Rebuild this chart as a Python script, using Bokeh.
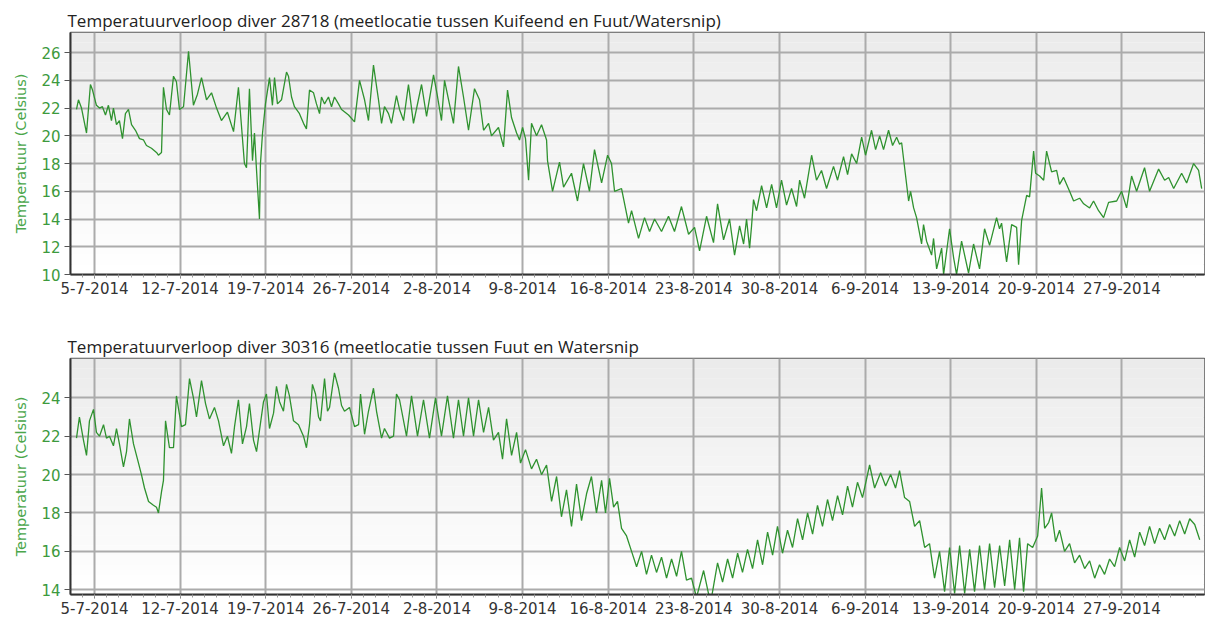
from bokeh.plotting import figure
from bokeh.layouts import column
from bokeh.models import FixedTicker, Range1d, BoxAnnotation
from bokeh.embed import file_html
from bokeh.resources import INLINE

# x values: days since 5-7-2014
tick_days = [0, 7, 14, 21, 28, 35, 42, 49, 56, 63, 70, 77, 84]
tick_labels = ["5-7-2014", "12-7-2014", "19-7-2014", "26-7-2014", "2-8-2014",
               "9-8-2014", "16-8-2014", "23-8-2014", "30-8-2014", "6-9-2014",
               "13-9-2014", "20-9-2014", "27-9-2014"]

title_top = "Temperatuurverloop diver 28718 (meetlocatie tussen Kuifeend en Fuut/Watersnip)"
title_bottom = "Temperatuurverloop diver 30316 (meetlocatie tussen Fuut en Watersnip"
y_label = "Temperatuur (Celsius)"

top_days = [
    -1.47, -1.31, -1.06, -0.65, -0.33, -0.16, 0.16, 0.41, 0.65, 0.90,
    1.14, 1.39, 1.55, 1.80, 2.04, 2.29, 2.53, 2.78, 3.03, 3.35,
    3.68, 4.01, 4.25, 4.66, 5.07, 5.23, 5.48, 5.64, 5.89, 6.13,
    6.46, 6.70, 6.95, 7.28, 7.69, 8.09, 8.42, 8.75, 9.16, 9.57,
    9.98, 10.38, 10.87, 11.37, 11.77, 12.26, 12.43, 12.67, 12.92, 13.08,
    13.25, 13.49, 13.57, 13.74, 13.98, 14.31, 14.55, 14.72, 14.96, 15.29,
    15.70, 15.86, 16.11, 16.35, 16.76, 17.09, 17.33, 17.58, 17.91, 18.15,
    18.40, 18.56, 18.81, 19.13, 19.38, 19.62, 19.95, 20.20, 20.77, 21.26,
    21.67, 22.08, 22.40, 22.81, 23.22, 23.47, 23.71, 24.04, 24.28, 24.69,
    24.94, 25.27, 25.67, 26.08, 26.74, 27.15, 27.72, 28.05, 28.37, 28.62,
    28.95, 29.35, 29.76, 30.17, 30.58, 31.07, 31.48, 31.81, 32.22, 32.46,
    33.03, 33.44, 33.77, 34.10, 34.51, 34.75, 35.00, 35.24, 35.49, 35.73,
    36.14, 36.55, 36.96, 37.04, 37.45, 38.02, 38.35, 39.00, 39.49, 39.98,
    40.47, 40.88, 41.46, 41.95, 42.27, 42.52, 43.09, 43.66, 43.91, 44.48,
    44.97, 45.38, 45.79, 46.36, 46.93, 47.42, 47.99, 48.57, 49.06, 49.47,
    50.04, 50.61, 50.94, 51.43, 51.92, 52.33, 52.74, 53.07, 53.31, 53.56,
    53.72, 53.88, 54.13, 54.54, 54.95, 55.36, 55.76, 56.17, 56.58, 56.99,
    57.40, 57.65, 58.05, 58.63, 59.03, 59.44, 59.85, 60.42, 60.75, 61.24,
    61.57, 61.90, 62.31, 62.72, 63.04, 63.53, 63.86, 64.19, 64.51, 64.92,
    65.25, 65.58, 65.82, 65.99, 66.56, 66.72, 66.97, 67.21, 67.62, 67.78,
    68.03, 68.44, 68.60, 68.85, 69.26, 69.42, 69.91, 70.24, 70.48, 70.89,
    71.46, 71.87, 72.36, 72.77, 73.18, 73.75, 73.99, 74.16, 74.57, 74.98,
    75.39, 75.55, 75.80, 76.21, 76.45, 76.78, 76.94, 77.27, 77.60, 77.84,
    78.25, 78.66, 78.90, 79.23, 79.72, 80.05, 80.54, 80.87, 81.36, 81.68,
    82.09, 82.50, 82.91, 83.57, 83.97, 84.38, 84.79, 85.20, 85.85, 86.26,
    87.00, 87.49, 87.82, 88.23, 88.88, 89.29, 89.86, 90.27, 90.52,
]
top_temp = [
    21.9, 22.6, 22.0, 20.2, 23.7, 23.3, 22.2, 22.0, 22.1, 21.5,
    22.2, 21.1, 22.0, 20.8, 21.1, 19.8, 21.6, 21.9, 20.8, 20.4,
    19.8, 19.7, 19.3, 19.1, 18.8, 18.6, 18.8, 23.5, 21.9, 21.5,
    24.3, 23.9, 21.9, 22.1, 26.1, 22.2, 23.0, 24.2, 22.6, 23.1,
    22.0, 21.1, 21.7, 20.3, 23.5, 18.0, 17.7, 23.4, 18.2, 20.2,
    17.5, 14.0, 18.0, 20.2, 22.3, 24.2, 22.2, 24.2, 22.3, 22.6,
    24.6, 24.3, 22.8, 22.1, 21.6, 20.9, 20.5, 23.3, 23.1, 22.3,
    21.6, 22.8, 22.3, 22.8, 22.1, 22.8, 22.3, 21.9, 21.5, 21.0,
    24.0, 22.6, 21.1, 25.1, 22.6, 20.9, 22.1, 21.6, 20.9, 22.9,
    21.9, 21.1, 23.7, 20.9, 23.7, 21.4, 24.4, 22.8, 21.1, 24.0,
    22.6, 20.9, 25.0, 22.8, 20.4, 23.4, 22.6, 20.4, 20.9, 20.0,
    20.6, 19.2, 23.3, 21.3, 20.2, 19.7, 20.6, 19.8, 16.8, 20.9,
    20.0, 20.8, 19.7, 18.2, 16.0, 18.1, 16.3, 17.3, 15.3, 18.0,
    16.0, 19.0, 16.6, 18.6, 18.0, 16.0, 16.2, 13.7, 14.6, 12.6,
    14.1, 13.1, 14.0, 13.1, 14.2, 13.1, 14.9, 12.9, 13.4, 11.7,
    14.2, 12.3, 15.1, 12.5, 14.0, 11.4, 13.5, 12.2, 14.0, 11.9,
    13.5, 15.4, 14.6, 16.4, 14.8, 16.5, 14.8, 16.8, 15.0, 16.2,
    14.9, 16.8, 15.5, 18.6, 16.8, 17.5, 16.2, 17.8, 16.8, 18.5,
    17.2, 18.7, 18.0, 19.9, 18.6, 20.4, 19.0, 20.0, 19.0, 20.4,
    19.3, 19.9, 19.4, 19.5, 15.3, 16.0, 14.8, 14.1, 12.2, 13.6,
    12.4, 11.4, 12.6, 10.4, 11.9, 10.0, 13.3, 11.2, 10.0, 12.4,
    10.1, 12.2, 10.4, 13.3, 12.1, 14.1, 13.3, 13.7, 10.9, 13.6,
    13.4, 10.7, 13.9, 15.7, 15.6, 18.9, 17.3, 17.1, 16.8, 18.9,
    17.4, 17.5, 16.5, 17.0, 16.0, 15.3, 15.5, 15.1, 14.8, 15.3,
    14.6, 14.1, 15.2, 15.3, 16.0, 14.8, 17.1, 16.0, 17.7, 16.0,
    17.6, 16.8, 17.0, 16.2, 17.3, 16.6, 18.0, 17.5, 16.2,
]

bottom_days = [
    -1.47, -1.23, -0.90, -0.65, -0.41, -0.08, 0.16, 0.41, 0.74, 0.98,
    1.23, 1.55, 1.80, 2.04, 2.37, 2.62, 2.86, 3.19, 3.60, 3.84,
    4.09, 4.42, 4.82, 5.07, 5.23, 5.48, 5.64, 5.81, 6.13, 6.46,
    6.70, 7.11, 7.44, 7.77, 8.09, 8.34, 8.75, 9.08, 9.40, 9.81,
    10.14, 10.55, 10.87, 11.20, 11.45, 11.77, 12.10, 12.43, 12.67, 13.00,
    13.25, 13.49, 13.82, 14.06, 14.31, 14.64, 14.88, 15.13, 15.45, 15.70,
    15.94, 16.27, 16.68, 17.09, 17.33, 17.58, 17.82, 18.07, 18.32, 18.48,
    18.81, 19.05, 19.22, 19.62, 19.95, 20.20, 20.44, 20.85, 21.26, 21.59,
    21.75, 22.08, 22.40, 22.81, 23.06, 23.47, 23.71, 24.12, 24.45, 24.69,
    24.94, 25.51, 25.92, 26.41, 26.90, 27.39, 27.88, 28.37, 28.86, 29.35,
    29.76, 30.17, 30.58, 30.99, 31.40, 31.81, 32.22, 32.62, 33.03, 33.36,
    33.69, 34.10, 34.51, 34.83, 35.24, 35.73, 36.14, 36.55, 36.96, 37.37,
    37.78, 38.18, 38.59, 39.00, 39.41, 39.82, 40.23, 40.63, 41.04, 41.46,
    41.78, 42.11, 42.44, 42.76, 43.09, 43.50, 43.91, 44.32, 44.73, 45.13,
    45.54, 45.95, 46.36, 46.77, 47.18, 47.59, 47.99, 48.40, 48.81, 49.22,
    49.80, 50.20, 50.45, 50.94, 51.35, 51.76, 52.17, 52.58, 52.98, 53.39,
    53.80, 54.21, 54.62, 55.03, 55.44, 55.84, 56.25, 56.66, 57.07, 57.48,
    57.89, 58.30, 58.71, 59.11, 59.52, 59.93, 60.34, 60.75, 61.16, 61.57,
    61.97, 62.38, 62.79, 63.37, 63.78, 64.27, 64.68, 65.09, 65.49, 65.82,
    66.23, 66.64, 67.05, 67.46, 67.87, 68.27, 68.68, 69.09, 69.50, 69.91,
    70.32, 70.73, 71.14, 71.55, 71.95, 72.36, 72.77, 73.18, 73.59, 74.00,
    74.41, 74.82, 75.23, 75.63, 75.96, 76.29, 76.70, 77.11, 77.43, 77.68,
    78.01, 78.25, 78.58, 78.90, 79.31, 79.72, 80.13, 80.54, 80.95, 81.36,
    81.77, 82.17, 82.58, 82.99, 83.40, 83.81, 84.22, 84.63, 85.04, 85.45,
    85.85, 86.26, 86.67, 87.08, 87.49, 87.90, 88.31, 88.72, 89.13, 89.54,
    89.95, 90.36,
]
bottom_temp = [
    21.9, 23.0, 21.8, 21.0, 22.8, 23.4, 22.2, 22.0, 22.6, 21.9,
    22.0, 21.5, 22.4, 21.6, 20.4, 21.2, 22.9, 21.6, 20.6, 20.0,
    19.3, 18.6, 18.4, 18.3, 18.0, 19.1, 19.7, 22.8, 21.4, 21.4,
    24.1, 22.5, 22.6, 25.0, 24.0, 23.0, 24.9, 23.7, 22.9, 23.5,
    22.8, 21.5, 22.0, 21.1, 22.5, 23.9, 21.6, 22.5, 23.7, 21.8,
    21.2, 22.3, 23.8, 24.2, 22.4, 23.2, 24.6, 23.8, 23.3, 24.7,
    24.1, 22.8, 22.6, 22.0, 21.4, 22.6, 24.7, 24.2, 23.0, 22.8,
    25.0, 23.3, 23.5, 25.3, 24.5, 23.6, 23.3, 23.5, 22.5, 22.6,
    24.2, 22.1, 23.3, 24.5, 23.3, 21.9, 22.4, 21.9, 22.0, 24.2,
    23.9, 22.0, 24.1, 22.0, 23.9, 21.9, 24.0, 22.0, 24.1, 21.9,
    23.9, 22.0, 24.0, 22.0, 23.9, 22.2, 23.5, 21.8, 22.2, 20.8,
    22.9, 21.0, 22.2, 20.6, 21.3, 20.3, 20.8, 20.0, 20.5, 18.6,
    19.9, 17.8, 19.2, 17.3, 19.5, 17.6, 19.0, 19.9, 18.0, 19.7,
    18.0, 19.8, 18.3, 18.6, 17.2, 16.8, 16.0, 15.2, 16.0, 14.8,
    15.8, 14.9, 15.7, 14.6, 15.6, 14.7, 16.0, 14.5, 14.6, 13.6,
    15.0, 13.8, 13.6, 15.4, 14.4, 15.6, 14.6, 15.9, 14.9, 16.1,
    15.1, 16.6, 15.3, 17.0, 15.8, 17.3, 15.9, 17.1, 16.2, 17.7,
    16.6, 18.0, 16.9, 18.4, 17.3, 18.7, 17.6, 18.9, 17.9, 19.4,
    18.3, 19.6, 18.8, 20.5, 19.3, 20.1, 19.4, 20.0, 19.3, 20.2,
    18.8, 18.6, 17.3, 17.6, 16.2, 16.4, 14.6, 16.0, 13.9, 16.2,
    13.8, 16.3, 13.8, 16.1, 13.9, 16.3, 14.0, 16.4, 14.1, 16.3,
    14.2, 16.6, 14.0, 16.7, 13.9, 16.4, 16.2, 16.8, 19.3, 17.2,
    17.5, 18.0, 16.5, 17.1, 16.0, 16.4, 15.4, 15.8, 15.1, 15.5,
    14.6, 15.3, 14.8, 15.6, 15.2, 16.2, 15.5, 16.6, 15.7, 17.0,
    16.3, 17.3, 16.4, 17.2, 16.6, 17.4, 16.8, 17.6, 16.9, 17.7,
    17.4, 16.6,
]

top_yticks = [10, 12, 14, 16, 18, 20, 22, 24, 26]
bottom_yticks = [14, 16, 18, 20, 22, 24]

LINE_COLOR = "#2f922f"
GREEN_TEXT = "#3d9a3d"
GRID = "#ababab"


def make_panel(title, days, temps, y0, y1, yticks, height, b_top, b_bottom):
    p = figure(width=1205, height=height,
               x_range=Range1d(-1.96, 90.75), y_range=Range1d(y0, y1),
               output_backend="svg", toolbar_location=None,
               min_border_left=70, min_border_right=1,
               min_border_top=b_top, min_border_bottom=b_bottom)
    p.background_fill_color = "white"
    p.border_fill_color = "white"
    p.outline_line_color = "#5a5a5a"
    p.outline_line_width = 1.5

    # vertical gradient background (grey at top to white at bottom)
    nb = 24
    for i in range(nb):
        f = (i + 0.5) / nb
        c = int(round(255 - 20 * f))
        col = "#%02x%02x%02x" % (c, c, c)
        lo = y0 + (y1 - y0) * i / nb
        hi = y0 + (y1 - y0) * (i + 1) / nb
        p.add_layout(BoxAnnotation(bottom=lo, top=hi, fill_color=col, fill_alpha=1.0,
                                   line_alpha=0, level="image"))

    p.title.text = title
    p.title.text_font = "Open Sans"
    p.title.text_font_size = "17px"
    p.title.text_font_style = "normal"
    p.title.text_color = "#222222"
    p.title.align = "left"
    p.title.offset = -3
    p.title.standoff = 1

    p.line(days, temps, line_color=LINE_COLOR, line_width=1.3)

    xa = p.xaxis[0]
    xa.ticker = FixedTicker(ticks=tick_days, minor_ticks=list(range(-1, 91)))
    xa.major_label_overrides = {d: l for d, l in zip(tick_days, tick_labels)}
    xa.major_label_text_font = "DejaVu Sans"
    xa.major_label_text_font_size = "15px"
    xa.major_label_text_color = "#333333"
    xa.major_label_standoff = 3
    xa.axis_line_color = "#333333"
    xa.axis_line_width = 2
    xa.major_tick_line_color = "#777777"
    xa.major_tick_out = 4
    xa.major_tick_in = 0
    xa.minor_tick_line_color = "#999999"
    xa.minor_tick_out = 3
    xa.minor_tick_in = 0

    ya = p.yaxis[0]
    ya.ticker = FixedTicker(ticks=yticks, minor_ticks=[])
    ya.major_label_text_font = "DejaVu Sans"
    ya.major_label_text_font_size = "15px"
    ya.major_label_text_color = GREEN_TEXT
    ya.major_label_standoff = 4
    ya.axis_line_color = "#333333"
    ya.axis_line_width = 2
    ya.major_tick_line_color = "#555555"
    ya.major_tick_out = 6
    ya.major_tick_in = 0
    ya.axis_label = y_label
    ya.axis_label_text_font = "DejaVu Sans"
    ya.axis_label_text_font_size = "14.5px"
    ya.axis_label_text_font_style = "normal"
    ya.axis_label_text_color = "#4aa64a"
    ya.axis_label_standoff = 9

    p.xgrid.ticker = FixedTicker(ticks=tick_days)
    p.ygrid.ticker = FixedTicker(ticks=yticks)
    for g in (p.xgrid, p.ygrid):
        g.grid_line_color = GRID
        g.grid_line_width = 2
    return p


p1 = make_panel(title_top, top_days, top_temp, 10.0, 27.45, top_yticks, 316, 32, 42)
p2 = make_panel(title_bottom, bottom_days, bottom_temp, 13.75, 26.05, bottom_yticks, 304, 42, 26)

layout = column(p1, p2, spacing=0)
open("out.html", "w").write(file_html(layout, INLINE))
